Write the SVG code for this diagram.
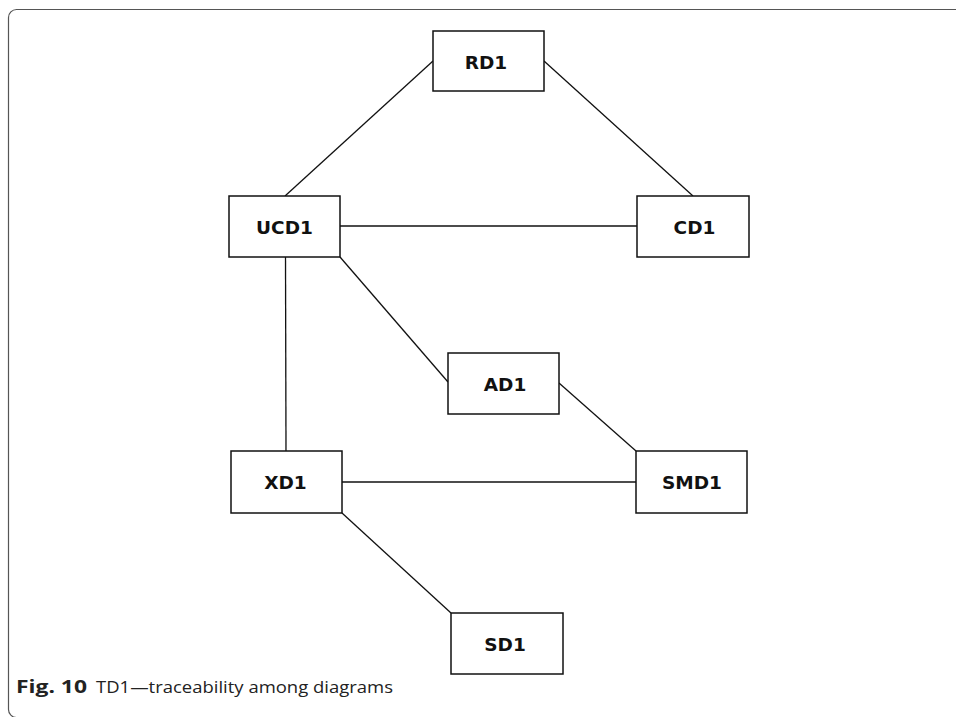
<svg xmlns="http://www.w3.org/2000/svg" width="956" height="717" viewBox="0 0 956 717">
<style>
.node rect{fill:#fff;stroke:#111;stroke-width:1.5}
.node text{font-family:"DejaVu Sans",sans-serif;font-weight:bold;font-size:18.5px;fill:#111;text-anchor:middle}
#connectors line{stroke:#111;stroke-width:1.3;fill:none}
.cap{font-family:"Open Sans","Noto Sans",sans-serif;font-size:17px;fill:#222}
</style>
<rect x="0" y="0" width="956" height="717" fill="#fff"/>
<rect x="8.5" y="9.5" width="960" height="708" rx="8" ry="8" fill="none" stroke="#555" stroke-width="1.2"/>
<g id="connectors">
<line x1="285" y1="196" x2="433" y2="61"/>
<line x1="544" y1="61" x2="693" y2="196"/>
<line x1="340" y1="226" x2="637" y2="226"/>
<line x1="285.5" y1="257" x2="286" y2="451"/>
<line x1="340" y1="257" x2="448" y2="382"/>
<line x1="559" y1="383" x2="636" y2="451"/>
<line x1="342" y1="482" x2="636" y2="482"/>
<line x1="342" y1="513" x2="451" y2="613"/>
</g>
<g id="RD1" class="node"><rect x="433" y="31" width="111" height="60"/><text x="486" y="68.5">RD1</text></g>
<g id="UCD1" class="node"><rect x="229" y="196" width="111" height="61"/><text x="284.5" y="233.5">UCD1</text></g>
<g id="CD1" class="node"><rect x="637" y="196" width="112" height="61"/><text x="694.5" y="233.5">CD1</text></g>
<g id="AD1" class="node"><rect x="448" y="353" width="111" height="61"/><text x="505" y="390.5">AD1</text></g>
<g id="XD1" class="node"><rect x="231" y="451" width="111" height="62"/><text x="285.5" y="489">XD1</text></g>
<g id="SMD1" class="node"><rect x="636" y="451" width="111" height="62"/><text x="692" y="489">SMD1</text></g>
<g id="SD1" class="node"><rect x="451" y="613" width="112" height="61"/><text x="505" y="651">SD1</text></g>
<g id="caption">
<text class="cap" x="16" y="693" font-weight="bold" textLength="71" lengthAdjust="spacingAndGlyphs">Fig. 10</text>
<text class="cap" x="96" y="693" textLength="297" lengthAdjust="spacingAndGlyphs">TD1—traceability among diagrams</text>
</g>
</svg>
